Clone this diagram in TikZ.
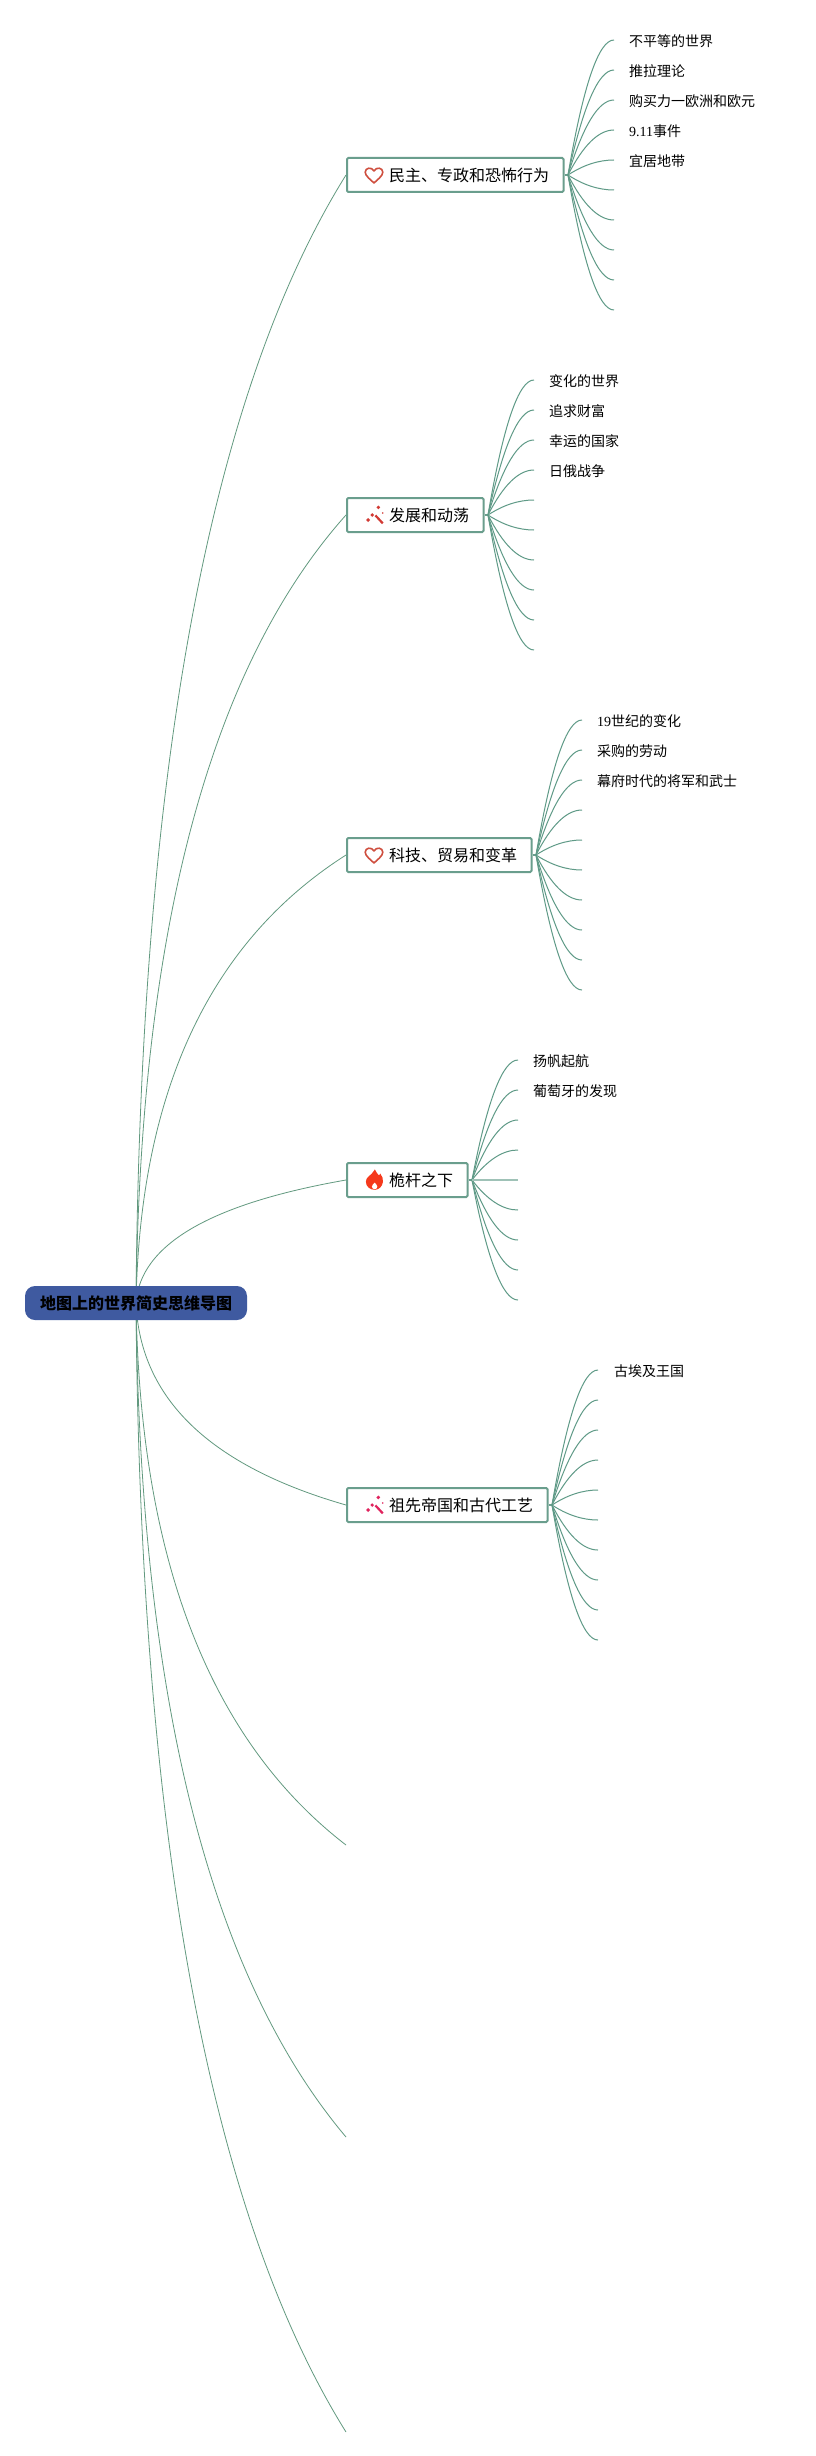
\documentclass[tikz,border=0pt]{standalone}
\usepackage{fontspec}
\setmainfont{Liberation Serif}
\newfontfamily\cjk{Noto Sans CJK SC}
\usetikzlibrary{calc}
\definecolor{linkgreen}{HTML}{62997F}
\definecolor{childgreen}{HTML}{5F9A87}
\definecolor{boxgreen}{HTML}{6A9E8D}
\definecolor{rootblue}{HTML}{3F5AA0}
\definecolor{heartred}{HTML}{CF4F3F}
\definecolor{wandred}{HTML}{D23A34}
\definecolor{wandpink}{HTML}{E0245E}
\definecolor{flamered}{HTML}{F5391C}
\newcommand{\lat}[1]{{\rmfamily #1}}
% quadratic curve from #2 through control #3 to #4, written as a cubic
\newcommand{\qlink}[4][]{\draw[linkline,#1] (#2) .. controls ($(#2)!.6667!(#3)$) and ($(#4)!.6667!(#3)$) .. (#4);}
\newcommand{\heartat}[1]{\begin{scope}[shift={(#1)}]
  \draw[heartred,line width=1.6pt,line join=round] (0,8) .. controls (-3,5) and (-8.8,1) .. (-8.8,-2.8) .. controls (-8.8,-7.2) and (-2.6,-8.6) .. (0,-4) .. controls (2.6,-8.6) and (8.8,-7.2) .. (8.8,-2.8) .. controls (8.8,1) and (3,5) .. (0,8) -- cycle;
\end{scope}}
\newcommand{\wandat}[2]{\begin{scope}[shift={(#1)}]
  \draw[#2,line width=2.2pt] (-0.6,0.4) -- (6.8,8.4);
  \fill[#2] (-9.8,5) -- (-7.8,3) -- (-5.8,5) -- (-7.8,7) -- cycle;
  \fill[#2] (-5.6,0) -- (-3.8,-1.8) -- (-2,0) -- (-3.8,1.8) -- cycle;
  \fill[#2] (0.4,-7.6) -- (2.3,-9.5) -- (4.2,-7.6) -- (2.3,-5.7) -- cycle;
  \fill[#2] (6.7,-2) circle (0.9);
\end{scope}}
\newcommand{\flameat}[1]{\begin{scope}[shift={(#1)}]
  \fill[flamered] (0.4,-10.6) .. controls (2.4,-6.6) and (3.4,-5.6) .. (4.6,-4.6) .. controls (5,-5.4) and (5.4,-5.8) .. (5.8,-6.4) .. controls (8,-3.6) and (8.8,-1) .. (8.4,2) .. controls (7.8,6.6) and (4.4,9.6) .. (0.6,9.8) .. controls (-4.6,10) and (-8.6,6.4) .. (-8.6,1.8) .. controls (-8.6,-2.6) and (-4.6,-4.2) .. (-2.6,-6.6) .. controls (-1.4,-8) and (-0.4,-9.4) .. (0.4,-10.6) -- cycle;
  \fill[white] (0.2,2.6) .. controls (-1,4) and (-2.6,4.8) .. (-2.6,6.6) .. controls (-2.6,8.2) and (-1,9.2) .. (0.2,9.2) .. controls (1.6,9.2) and (2.8,8.2) .. (2.8,6.6) .. controls (2.8,5) and (1.2,4) .. (0.2,2.6) -- cycle;
\end{scope}}
\tikzset{
  linkline/.style={draw=linkgreen,line width=0.8pt},
  childline/.style={draw=childgreen,line width=1pt},
  stubline/.style={draw=boxgreen,line width=2pt},
  rootbox/.style={draw=none,fill=rootblue,rounded corners=10pt,font=\cjk\bfseries\fontsize{16}{16}\selectfont,text=black,inner xsep=15pt,inner ysep=0pt,minimum height=34pt,text height=14pt,text depth=1pt},
  branchbox/.style={draw=boxgreen,fill=white,line width=2pt,rounded corners=1.2pt,font=\cjk\fontsize{16}{16}\selectfont,text=black,inner xsep=14.5pt,inner ysep=0pt,minimum height=34pt,text height=14pt,text depth=1pt,anchor=west},
  leaftext/.style={font=\cjk\fontsize{14}{14}\selectfont,text=black,inner sep=0pt,anchor=west,text height=12pt,text depth=0pt}
}
\begin{document}
\begin{tikzpicture}[x=1pt,y=-1pt]
\useasboundingbox (0,0) rectangle (815,2456);
\fill[white] (0,0) rectangle (815,2456);
\coordinate (hub) at (136,1303);
\foreach \n/\y in {a/175,b/515,c/855,d/1180,e/1505,f/1845,g/2137,h/2432}{
  \coordinate (in\n) at (346,\y);
  \coordinate (ctl\n) at (142,{\y+0.29*(1303-\y)});
  \qlink{hub}{ctl\n}{in\n}
}
% root
\node[rootbox] (root) at (136,1303) {地图上的世界简史思维导图};
% branches
\node[branchbox] (ba) at (346,175) {\hspace*{27.5pt}民主、专政和恐怖行为};
\node[branchbox] (bb) at (346,515) {\hspace*{27.5pt}发展和动荡};
\node[branchbox] (bc) at (346,855) {\hspace*{27.5pt}科技、贸易和变革};
\node[branchbox] (bd) at (346,1180) {\hspace*{27.5pt}桅杆之下};
\node[branchbox] (be) at (346,1505) {\hspace*{27.5pt}祖先帝国和古代工艺};
\heartat{374,175}
\wandat{376,515}{wandred}
\heartat{374,855}
\flameat{374.5,1180}
\wandat{376,1505}{wandpink}
% child links
\foreach \b/\ox/\oy in {a/568/175,b/488/515,c/536/855,d/472/1180,e/552/1505}{
  \coordinate (o\b) at (\ox,\oy);
  \draw[stubline] (b\b.east) -- (o\b);
}
\foreach \b/\ex/\y in {a/614/40,b/534/380,c/582/720,e/598/1370}{
  \foreach \i in {0,...,9}{
    \coordinate (\b\i) at (\ex,{\y+30*\i});
    \coordinate (\b m\i) at ($(o\b)!.5!(\b\i)$);
    \qlink[childline]{o\b}{\b m\i |- \b\i}{\b\i}
  }
}
\foreach \i in {0,1,2,3,5,6,7,8}{
  \coordinate (d\i) at (518,{1060+30*\i});
  \coordinate (dm\i) at ($(od)!.5!(d\i)$);
  \qlink[childline]{od}{dm\i |- d\i}{d\i}
}
\coordinate (d4) at (518,1180);
\draw[draw=childgreen!60,line width=1.5pt] (od) -- (d4);
% leaf texts
\node[leaftext] (ta0) at (629,40.5) {不平等的世界};
\node[leaftext] (ta1) at (629,70.5) {推拉理论};
\node[leaftext] (ta2) at (629,100.5) {购买力一欧洲和欧元};
\node[leaftext] (ta3) at (629,130.5) {\lat{9.11}事件};
\node[leaftext] (ta4) at (629,160.5) {宜居地带};
\node[leaftext] (tb0) at (549,380.5) {变化的世界};
\node[leaftext] (tb1) at (549,410.5) {追求财富};
\node[leaftext] (tb2) at (549,440.5) {幸运的国家};
\node[leaftext] (tb3) at (549,470.5) {日俄战争};
\node[leaftext] (tc0) at (597,720.5) {\lat{19}世纪的变化};
\node[leaftext] (tc1) at (597,750.5) {采购的劳动};
\node[leaftext] (tc2) at (597,780.5) {幕府时代的将军和武士};
\node[leaftext] (td0) at (533,1060.5) {扬帆起航};
\node[leaftext] (td1) at (533,1090.5) {葡萄牙的发现};
\node[leaftext] (te0) at (614,1370.5) {古埃及王国};
\end{tikzpicture}
\end{document}
